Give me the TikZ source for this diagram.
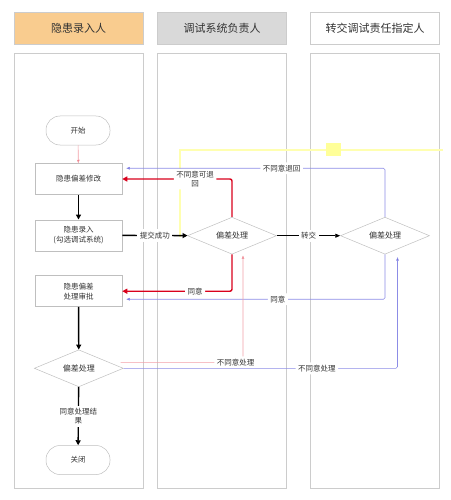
\documentclass[tikz,border=0pt]{standalone}
\usepackage{fontspec}
\setmainfont{Noto Sans CJK SC}
\usetikzlibrary{shapes.geometric,arrows.meta}
\definecolor{hdrorange}{HTML}{F9CC8F}
\definecolor{hdrgray}{HTML}{D9D9D9}
\definecolor{laneline}{HTML}{CCCCCC}
\definecolor{shapeline}{HTML}{BFBFBF}
\definecolor{txt}{HTML}{333333}
\definecolor{redthick}{HTML}{D9001B}
\definecolor{redthin}{HTML}{F2A0A8}
\definecolor{bluethin}{HTML}{8C8CE6}
\definecolor{bluetip}{HTML}{3333CC}
\definecolor{yel}{HTML}{FFFFB0}
\definecolor{yelsq}{HTML}{FFFF99}
\begin{document}
\begin{tikzpicture}[x=1pt,y=-1pt,
  every node/.style={text=txt,font=\fontsize{7.5}{9.5}\selectfont},
  hdr/.style={draw=laneline,line width=0.8pt,minimum width=129pt,minimum height=32pt,inner sep=0pt,font=\fontsize{11}{13}\selectfont},
  lanebox/.style={draw=laneline,line width=0.8pt,minimum width=129pt,minimum height=435pt,inner sep=0pt},
  term/.style={draw=shapeline,line width=0.5pt,rounded corners=14pt,minimum width=64pt,minimum height=29pt,inner sep=0pt},
  proc/.style={draw=shapeline,line width=0.5pt,minimum width=87pt,minimum height=31pt,inner sep=0pt,align=center,font=\fontsize{7.5}{10}\selectfont},
  dec/.style={draw=shapeline,line width=0.5pt,diamond,aspect=2.4,minimum width=89pt,minimum height=37pt,inner sep=0pt,font=\fontsize{8}{10}\selectfont},
  thickblack/.style={draw=black,line width=1.4pt,-{Triangle[length=5pt,width=5pt]}},
  thinblack/.style={draw=black,line width=0.8pt,-{Triangle[length=5pt,width=4pt]}},
  thickred/.style={draw=redthick,line width=1.4pt,rounded corners=2pt,-{Triangle[length=5pt,width=5pt]}},
  thinred/.style={draw=redthin,line width=0.6pt,rounded corners=1pt,-{Triangle[length=3.5pt,width=2.5pt,fill=redthick]}},
  thinblue/.style={draw=bluethin,line width=0.6pt,rounded corners=1.5pt,-{Triangle[length=3.5pt,width=2.5pt,fill=bluetip]}},
  lbl/.style={fill=white,inner sep=2.5pt,align=center,font=\fontsize{7.5}{9}\selectfont}
]
\useasboundingbox (0,0) rectangle (450,500);
% headers
\node[hdr,fill=hdrorange] (h1) at (78.5,28) {隐患录入人};
\node[hdr,fill=hdrgray] (h2) at (222,28) {调试系统负责人};
\node[hdr,fill=white] (h3) at (375,28) {转交调试责任指定人};
% lanes
\node[lanebox] (l1) at (78.5,270.5) {};
\node[lanebox] (l2) at (222,270.5) {};
\node[lanebox] (l3) at (375,270.5) {};
% yellow highlight
\coordinate (y1) at (443,150);
\coordinate (y2) at (180,236.7);
\draw[yel,line width=1.4pt] (y1) -| (y2);
\fill[yelsq] (326,143) rectangle (341,156);
% nodes
\node[term] (start) at (78,130.5) {开始};
\node[proc] (fix) at (78.5,179) {隐患偏差修改};
\node[proc] (entry) at (78.5,235.3) {隐患录入\\(勾选调试系统)};
\node[proc] (appr) at (78.5,291.2) {隐患偏差\\处理审批};
\node[dec] (d1) at (232,235.7) {偏差处理};
\node[dec] (d2) at (385,235.7) {偏差处理};
\node[dec] (d3) at (78.8,368.3) {偏差处理};
\node[term] (close) at (78,460) {关闭};
% edges
\draw[thinred] (start) -- (fix);
\draw[thickblack] (fix) -- (entry);
\draw[thickblack] (entry) -- node[lbl] {提交成功} (d1);
\draw[thickred] (d1.north) |- node[lbl,pos=0.668] {不同意可退\\回} (fix.east);
\draw[thickred] (d1.south) |- node[lbl,pos=0.668] {同意} (appr.east);
\draw[thinblack] (d1.east) -- node[lbl] {转交} (d2.west);
\draw[thinblue] (d2.north) |- node[lbl,pos=0.70] {不同意退回} ([xshift=4pt,yshift=-5pt]fix.north east);
\draw[thinblue] (d2.south) |- node[lbl,pos=0.707] {同意} ([xshift=4pt,yshift=-8pt]appr.east);
\draw[thickblack] (appr) -- (d3);
\draw[thickblack] (d3) -- node[lbl] {同意处理结\\果} (close);
\draw[thinred] ([xshift=-3pt,yshift=6pt]d3.east) -| node[lbl,pos=0.47] {不同意处理} ([xshift=11pt,yshift=-1pt]d1.south);
\draw[thinblue] (d3.east) -| node[lbl,pos=0.353] {不同意处理} ([xshift=12.5pt,yshift=-2.7pt]d2.south);
\end{tikzpicture}
\end{document}
